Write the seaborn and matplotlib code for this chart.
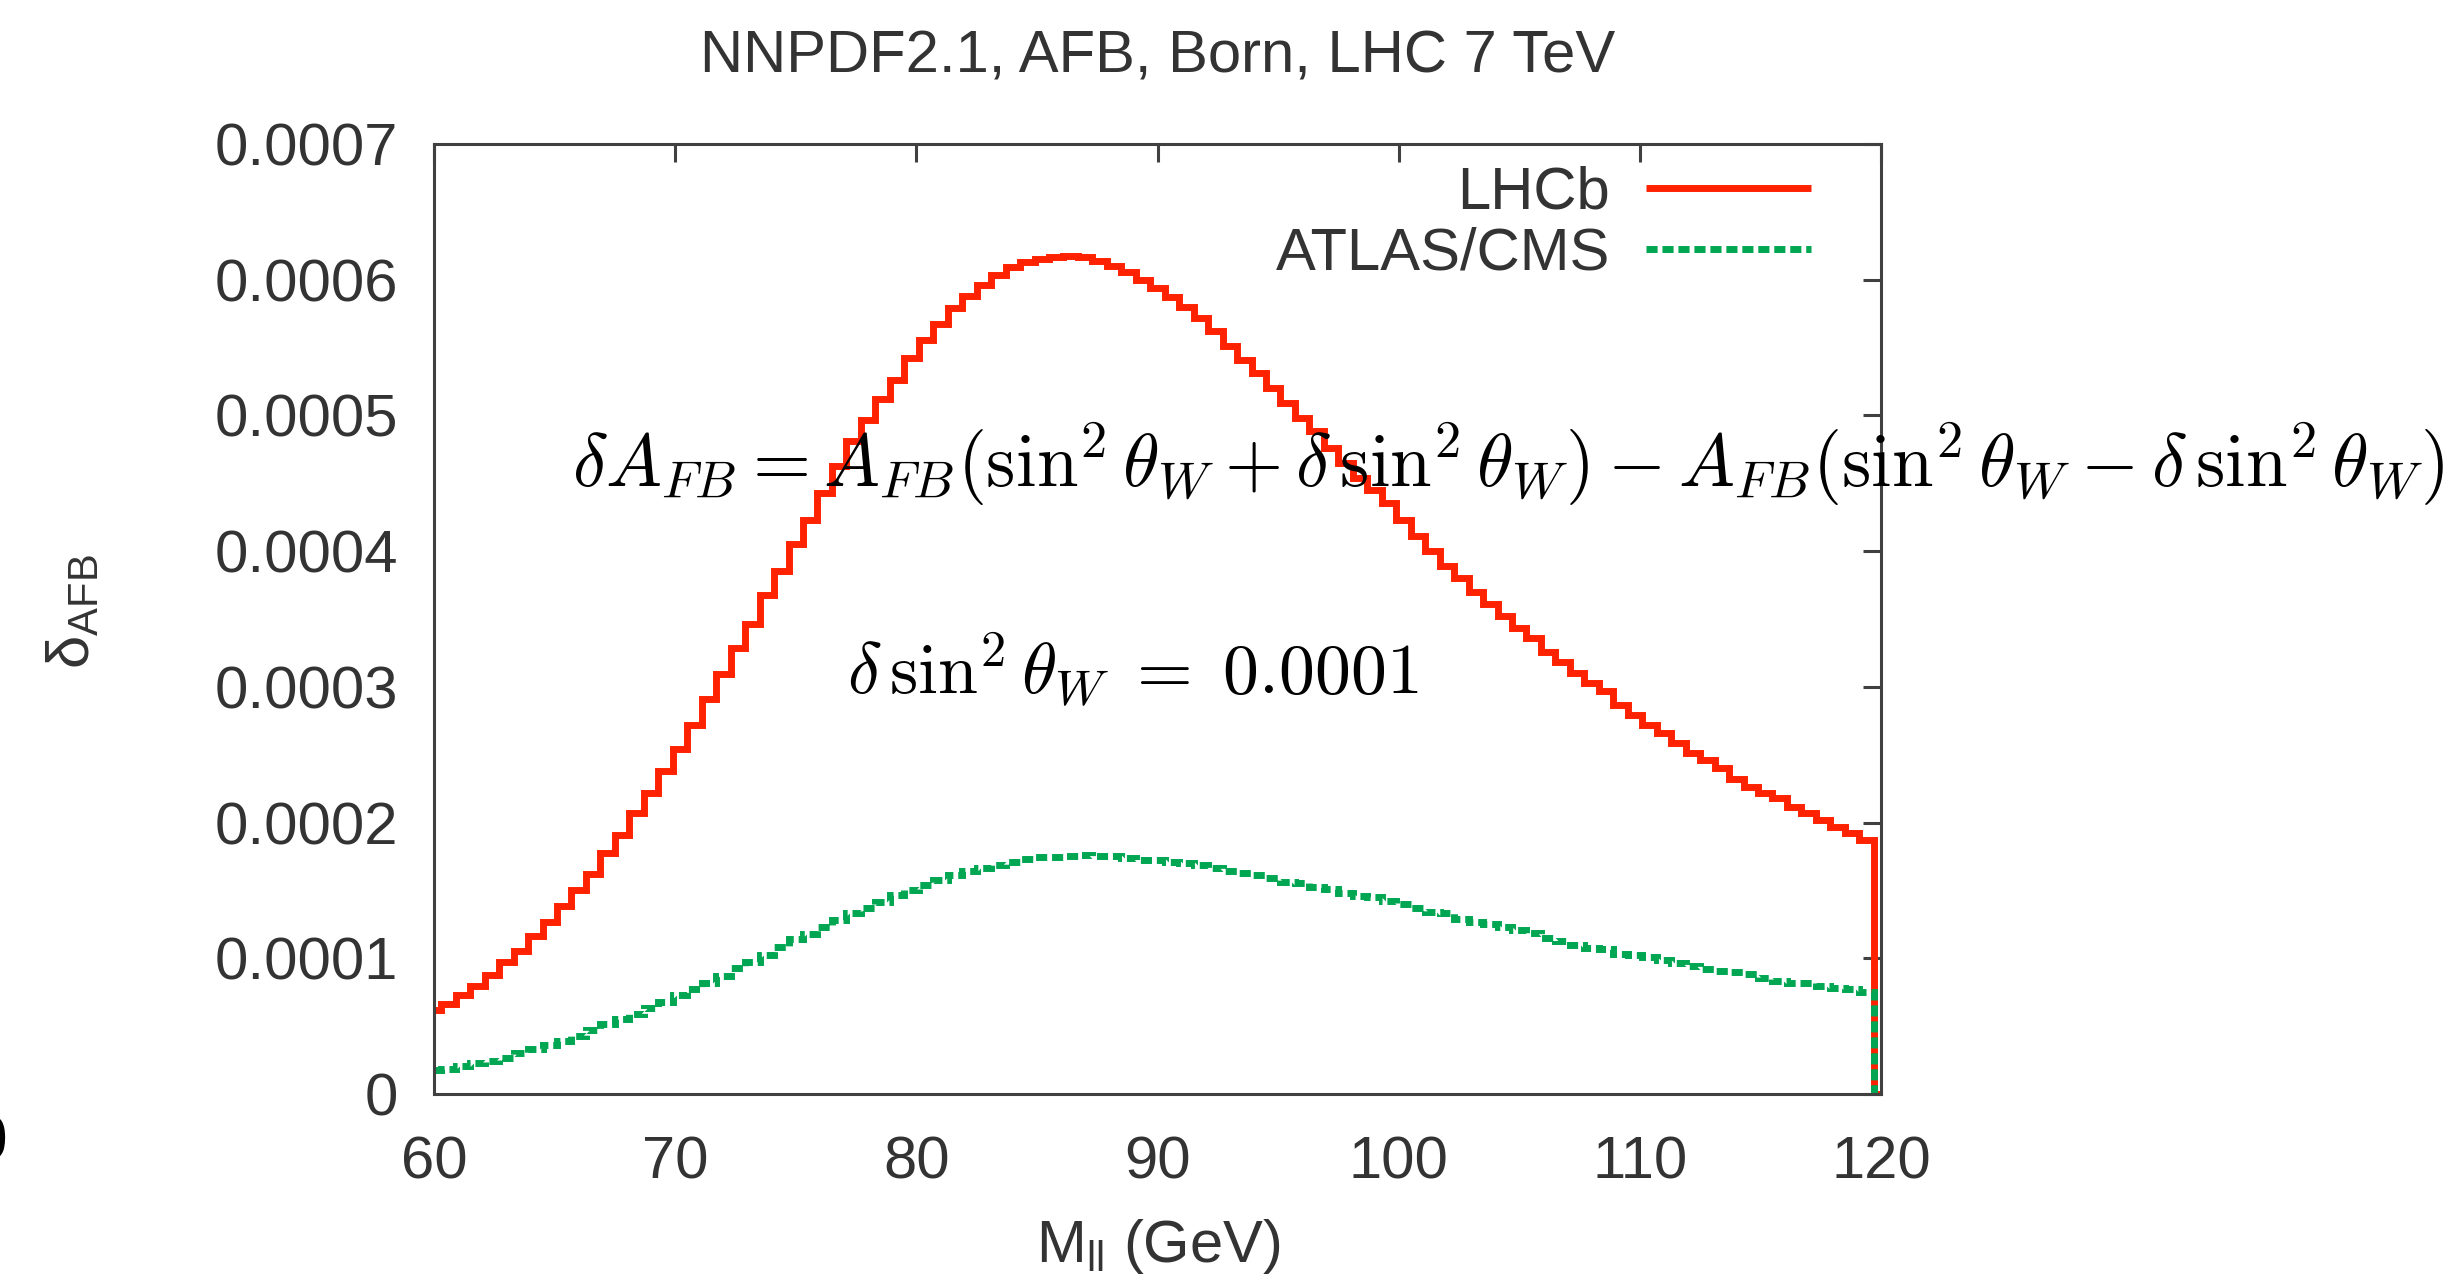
import numpy as np
import pandas as pd
import matplotlib
matplotlib.use("Agg")
import matplotlib.pyplot as plt
import seaborn as sns

# ---------------- data (values in units of 1e-4) ----------------
mass_first = 60.0
mass_step = 0.6
n_points = 100
end_mass = 120.0          # closing point: histogram drops to zero at 119.7
end_value = 0.0

lhcb_e4 = [0.62, 0.663, 0.730, 0.799, 0.880, 0.970, 1.057, 1.167, 1.270, 1.383,
           1.506, 1.622, 1.776, 1.909, 2.071, 2.220, 2.379, 2.541, 2.719, 2.908,
           3.095, 3.284, 3.463, 3.679, 3.851, 4.056, 4.233, 4.429, 4.626, 4.810,
           4.969, 5.121, 5.259, 5.423, 5.558, 5.676, 5.791, 5.877, 5.963, 6.035,
           6.095, 6.130, 6.150, 6.170, 6.175, 6.165, 6.141, 6.104, 6.060, 6.001,
           5.938, 5.870, 5.800, 5.715, 5.620, 5.509, 5.411, 5.313, 5.202, 5.092,
           4.982, 4.883, 4.761, 4.650, 4.540, 4.454, 4.356, 4.233, 4.110, 4.000,
           3.890, 3.800, 3.700, 3.610, 3.525, 3.431, 3.358, 3.260, 3.186, 3.101,
           3.032, 2.966, 2.868, 2.794, 2.721, 2.660, 2.586, 2.513, 2.462, 2.400,
           2.322, 2.260, 2.215, 2.179, 2.117, 2.069, 2.020, 1.971, 1.922, 1.873]

atlas_cms_e4 = [0.175, 0.184, 0.205, 0.225, 0.245, 0.265, 0.300, 0.330, 0.360, 0.390,
                0.430, 0.475, 0.515, 0.555, 0.590, 0.635, 0.680, 0.730, 0.775, 0.820,
                0.870, 0.930, 0.975, 1.025, 1.080, 1.140, 1.180, 1.230, 1.285, 1.335,
                1.370, 1.415, 1.465, 1.500, 1.540, 1.580, 1.615, 1.645, 1.665, 1.685,
                1.710, 1.730, 1.745, 1.750, 1.755, 1.760, 1.757, 1.754, 1.737, 1.724,
                1.724, 1.708, 1.700, 1.685, 1.668, 1.643, 1.626, 1.614, 1.589, 1.565,
                1.553, 1.523, 1.511, 1.479, 1.461, 1.449, 1.425, 1.400, 1.373, 1.344,
                1.331, 1.290, 1.265, 1.250, 1.228, 1.208, 1.185, 1.151, 1.126, 1.095,
                1.077, 1.065, 1.028, 1.021, 1.011, 0.987, 0.967, 0.942, 0.923, 0.906,
                0.898, 0.881, 0.857, 0.832, 0.820, 0.815, 0.796, 0.783, 0.771, 0.752]

series_names = ["LHCb", "ATLAS/CMS"]
x_ticks = [60, 70, 80, 90, 100, 110, 120]
y_ticks = [0, 0.0001, 0.0002, 0.0003, 0.0004, 0.0005, 0.0006, 0.0007]
y_tick_labels = ["0", "0.0001", "0.0002", "0.0003", "0.0004", "0.0005", "0.0006", "0.0007"]

title_text = "NNPDF2.1, AFB, Born, LHC 7 TeV"
xlabel_text = r"M$_{\rm ll}$ (GeV)"
ylabel_text = r"δ$_{\rm AFB}$"
formula_main = (r"$\delta A_{FB} = A_{FB}(\sin^2\theta_W + \delta\,\sin^2\theta_W)"
                r" - A_{FB}(\sin^2\theta_W - \delta\,\sin^2\theta_W)$")
formula_delta = r"$\delta\,\sin^2\theta_W \;=\; 0.0001$"

# ---------------- style ----------------
sns.set_theme(style="white")
plt.rcParams["font.family"] = ["Liberation Sans", "DejaVu Sans"]
plt.rcParams["mathtext.fontset"] = "custom"
plt.rcParams["mathtext.rm"] = "Liberation Sans"
plt.rcParams["mathtext.it"] = "Liberation Sans:italic"
plt.rcParams["mathtext.bf"] = "Liberation Sans:bold"

RED = "#ff2200"
GREEN = "#00a651"
AXC = "#404040"
TXT = "#333333"
FS = 43

W, H = 2458, 1274
fig = plt.figure(figsize=(W / 100, H / 100), dpi=100)
ax = fig.add_axes([434 / W, 1 - 1094 / H, (1881 - 434) / W, 950 / H])

mass = mass_first + mass_step * np.arange(n_points)
df = pd.concat([
    pd.DataFrame({"M": np.append(mass, end_mass),
                  "dA": np.append(np.array(lhcb_e4), end_value) * 1e-4,
                  "series": series_names[0]}),
    pd.DataFrame({"M": np.append(mass, end_mass),
                  "dA": np.append(np.array(atlas_cms_e4), end_value) * 1e-4,
                  "series": series_names[1]}),
])

sns.lineplot(data=df[df.series == series_names[0]], x="M", y="dA", ax=ax,
             color=RED, lw=5, drawstyle="steps-mid", estimator=None, sort=False,
             label=series_names[0], solid_joinstyle="miter", solid_capstyle="butt")
sns.lineplot(data=df[df.series == series_names[1]], x="M", y="dA", ax=ax,
             color=GREEN, lw=5, drawstyle="steps-mid", estimator=None, sort=False,
             label=series_names[1], ls=(0, (1.6, 0.7)), dash_joinstyle="miter",
             dash_capstyle="butt")

ax.set_xlim(60, 120)
ax.set_ylim(0, 0.0007)
ax.set_xticks(x_ticks)
ax.set_xticklabels([str(v) for v in x_ticks])
ax.set_yticks(y_ticks)
ax.set_yticklabels(y_tick_labels)
ax.set_xlabel("")
ax.set_ylabel("")
ax.grid(False)
for s in ax.spines.values():
    s.set_visible(True)
    s.set_color(AXC)
    s.set_linewidth(2.2)
ax.tick_params(axis="both", direction="in", top=True, right=True,
               length=13, width=2.2, color=AXC, labelsize=FS, labelcolor=TXT)
ax.tick_params(axis="x", pad=30)
ax.tick_params(axis="y", pad=26)

leg = ax.legend(loc="upper right", bbox_to_anchor=(0.9516, 0.977), frameon=False,
                markerfirst=False, handlelength=2.77, handletextpad=0.59,
                labelspacing=0.1, borderpad=0, borderaxespad=0, fontsize=FS,
                alignment="right")
for t in leg.get_texts():
    t.set_color(TXT)

fig.text(1158 / W, 1 - 57 / H, title_text, ha="center", va="center",
         fontsize=FS, color=TXT)
fig.text(1158 / W, 1 - 1246 / H, xlabel_text, ha="center", va="center",
         fontsize=FS, color=TXT)
fig.text(74 / W, 1 - 612 / H, ylabel_text, ha="center", va="center",
         rotation=90, fontsize=FS, color=TXT)

renderer = fig.canvas.get_renderer()
t1 = fig.text(572 / W, 1 - 487 / H, formula_main, ha="left", va="baseline",
              fontsize=50, color="black", math_fontfamily="cm")
w1 = t1.get_window_extent(renderer).width
t1.set_fontsize(50 * 1873 / w1)

t2 = fig.text(847 / W, 1 - 694 / H, formula_delta, ha="left", va="baseline",
              fontsize=50, color="black", math_fontfamily="cm")
w2 = t2.get_window_extent(renderer).width
t2.set_fontsize(50 * 572 / w2)

# partially visible glyph at the far left edge of the original image
fig.text(6 / W, 1 - 1158 / H, r"$0$", ha="right", va="baseline",
         fontsize=44, color="black", math_fontfamily="cm")

fig.savefig("out.png", dpi=100, facecolor="white")
